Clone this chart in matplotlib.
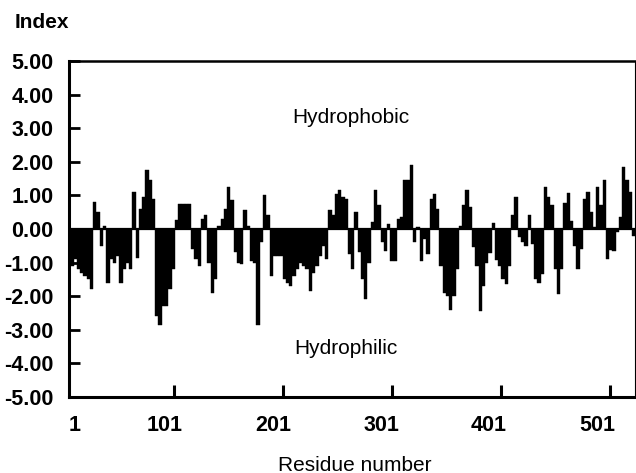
import numpy as np
import matplotlib
matplotlib.use("Agg")
import matplotlib.pyplot as plt

residue_start = 4
residue_step = 3
hydropathy = [
    -1.3, -1.1, -0.9, -1.2, -1.3, -1.4, -1.5, -1.8, 0.8, 0.5,
    -0.5, 0.1, -1.6, -0.9, -1.0, -0.8, -1.6, -1.2, -1.0, -1.2,
    1.1, -0.87, 0.6, 0.95, 1.75, 1.45, 0.9, -2.6, -2.85, -2.3,
    -2.3, -1.8, -1.2, 0.27, 0.75, 0.75, 0.75, 0.75, -0.6, -0.9,
    -1.1, 0.3, 0.4, -1.0, -1.9, -1.5, 0.1, 0.3, 0.6, 1.25,
    0.85, -0.7, -1.0, -1.05, 0.55, 0.1, -0.95, -1.0, -2.85, -0.4,
    1.0, 0.4, -1.4, -0.8, -0.8, -0.8, -1.5, -1.6, -1.7, -1.4,
    -1.2, -1.0, -1.1, -1.2, -1.85, -1.3, -1.1, -0.8, -0.5, -0.9,
    0.55, 0.4, 1.05, 1.15, 0.95, 0.9, -0.75, -1.2, 0.5, -0.7,
    -1.5, -2.1, -1.0, 0.2, 1.15, 0.7, -0.4, -0.65, 0.15, -0.95,
    -0.95, 0.3, 0.35, 1.45, 1.45, 1.9, -0.4, 0.05, -0.95, -0.3,
    -0.75, 0.9, 1.05, 0.6, -1.1, -1.9, -2.0, -2.4, -2.0, -1.2,
    0.1, 0.7, 1.16, 0.65, -0.55, -1.1, -2.45, -1.7, -1.0, -0.72,
    0.17, -0.92, -1.1, -1.5, -1.65, -1.1, 0.4, 0.96, -0.25, -0.4,
    -0.5, 0.42, -0.45, -1.5, -1.6, -1.35, 1.26, 0.95, 0.7, -1.2,
    -1.95, -1.2, 0.78, 1.06, 0.25, -0.5, -1.2, -0.6, 0.9, 1.1,
    0.5, 0.05, 1.26, 0.7, 1.45, -0.9, -0.62, -0.65, -0.1, 0.37,
    1.85, 1.45, 1.1, -0.2,
]

y_ticks = [5, 4, 3, 2, 1, 0, -1, -2, -3, -4, -5]
x_tick_marks = [101, 201, 301, 401, 501]
x_tick_labels = ["1", "101", "201", "301", "401", "501"]
x_label_pos = [9, 92, 192, 291, 390, 490]

plt.rcParams['font.family'] = ['Liberation Sans', 'DejaVu Sans']


def plot_profile():
    residues = residue_start + residue_step * np.arange(len(hydropathy))

    fig = plt.figure(figsize=(6.36, 4.73), dpi=100)
    ax = fig.add_axes([0.108, 0.161, 0.890, 0.710])

    ax.bar(residues, hydropathy, width=residue_step, color="black",
           edgecolor="black", linewidth=0.3)
    ax.axhline(0, color="black", linewidth=1.6)

    ax.set_xlim(4, 524)
    ax.set_ylim(-5, 5)

    ax.set_yticks(y_ticks)
    ax.set_yticklabels([f"{v:.2f}" for v in y_ticks], fontsize=15.5,
                       fontweight="bold")
    ax.tick_params(axis="y", direction="in", length=8, width=2, pad=11)

    # labels sit a little left of the tick marks in the original
    ax.set_xticks(x_label_pos)
    ax.set_xticklabels(x_tick_labels, fontsize=15.5, fontweight="bold")
    ax.tick_params(axis="x", which="major", length=0, pad=13)
    ax.set_xticks(x_tick_marks, minor=True)
    ax.tick_params(axis="x", which="minor", direction="in", length=9, width=2.2)

    for side in ["left", "bottom", "top", "right"]:
        ax.spines[side].set_linewidth(2.2)
    ax.spines["top"].set_linewidth(1.8)
    ax.spines["right"].set_linewidth(0.8)

    ax.text(263, 3.33, "Hydrophobic", fontsize=15, ha="center", va="center")
    ax.text(259, -3.57, "Hydrophilic", fontsize=15, ha="center", va="center")

    fig.text(15 / 636, 1 - 22 / 473, "Index", fontsize=15,
             fontweight="bold", ha="left", va="center")
    fig.text(355 / 636, 1 - 465 / 473, "Residue number", fontsize=15,
             ha="center", va="center")

    fig.savefig("out.png", dpi=100)


if __name__ == "__main__":
    plot_profile()
